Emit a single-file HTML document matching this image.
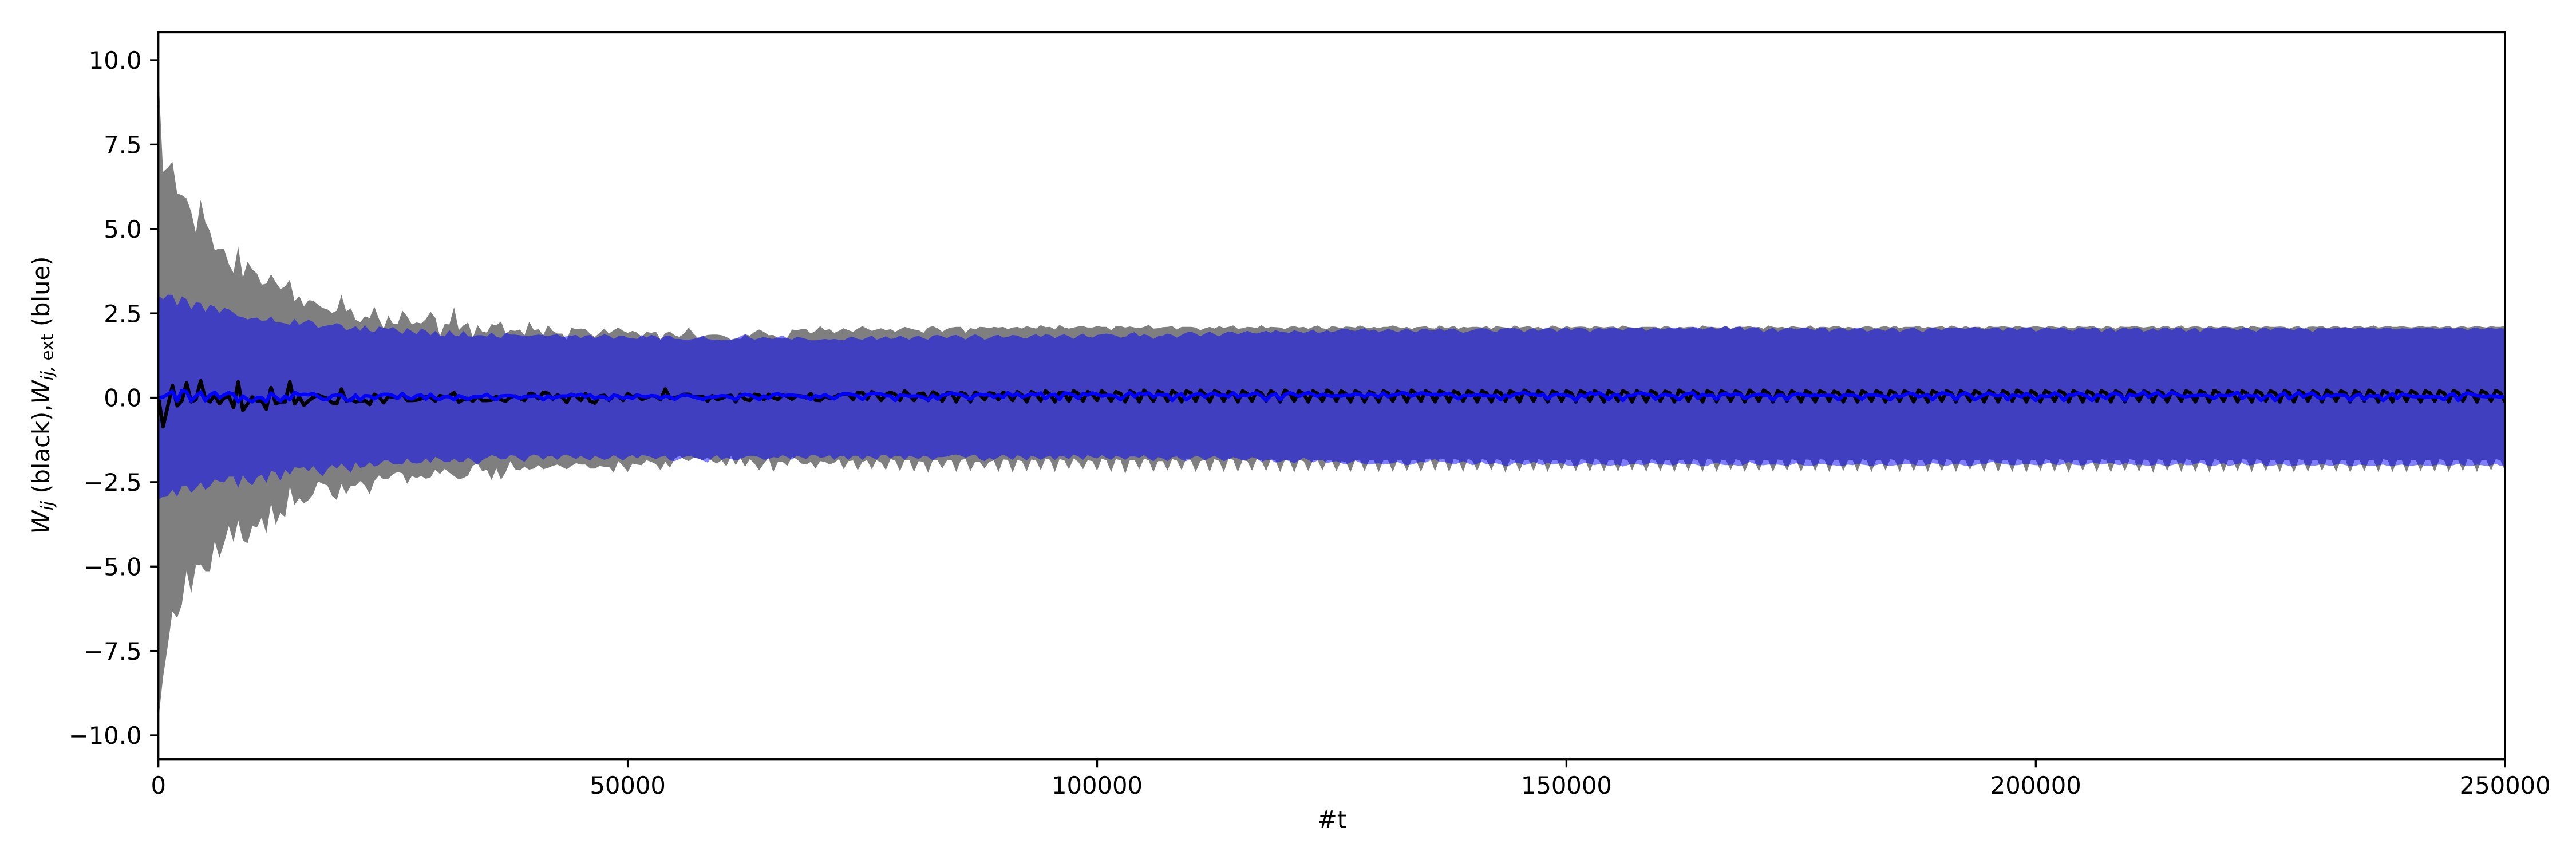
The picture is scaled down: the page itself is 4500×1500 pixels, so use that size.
<!DOCTYPE html>
<html>
<head>
<meta charset="utf-8">
<title>Wij and Wij,ext over time</title>
<style>
html,body{margin:0;padding:0;background:#fff;width:4500px;height:1500px;overflow:hidden}
svg{display:block}
text{font-family:"DejaVu Sans","Liberation Sans",sans-serif;fill:#000}
</style>
</head>
<body>
<svg id="chart" xmlns="http://www.w3.org/2000/svg" width="4500" height="1500" viewBox="0 0 4500 1500">
<defs><clipPath id="plot-clip"><rect x="276.7" y="56.5" width="4099.5" height="1269.2"/></clipPath></defs>
<rect x="0" y="0" width="4500" height="1500" fill="#fff"/>
<g id="marks" clip-path="url(#plot-clip)"></g>
<g id="axes"></g>
<text x="2326.5" y="1445.5" font-size="41.67" text-anchor="middle">#t</text>
<text transform="translate(86,690) rotate(-90)" font-size="41.67" text-anchor="middle" xml:space="preserve"><tspan font-style="italic">W</tspan><tspan font-style="italic" font-size="29.2" dy="6.5">ij</tspan><tspan dy="-6.5"> (black),</tspan><tspan font-style="italic">W</tspan><tspan font-style="italic" font-size="29.2" dy="6.5">ij,</tspan><tspan font-size="29.2"> ext</tspan><tspan dy="-6.5"> (blue)</tspan></text>
</svg>
<script>
const xTicks = [0, 50000, 100000, 150000, 200000, 250000];
const xTickLabels = ["0", "50000", "100000", "150000", "200000", "250000"];
const yTicks = [10, 7.5, 5, 2.5, 0, -2.5, -5, -7.5, -10];
const yTickLabels = ["10.0", "7.5", "5.0", "2.5", "0.0", "\u22122.5", "\u22125.0", "\u22127.5", "\u221210.0"];
const sampleStep = 500;

const blackUpper = [9.6,6.69,6.82,6.98,6.05,6,5.9,5.5,4.87,5.86,5.2,4.93,4.37,4.42,4.4,3.96,3.7,4.48,3.55,4.03,3.8,3.68,3.35,3.38,3.66,3.42,3.22,3.3,3.5,2.86,3.02,2.71,2.89,2.87,2.76,2.66,2.62,2.51,2.58,3.05,2.56,2.65,2.31,2.24,2.41,2.36,2.7,2.33,2.05,2.43,2.18,2.19,2.58,2.41,2.17,2.23,2.2,2.33,2.55,2.37,1.82,2.19,2.17,2.68,2,2.14,2.23,1.78,2.15,1.96,1.93,2.18,2.14,2.26,1.9,2,1.98,2.02,
1.85,2.25,2,2.03,1.85,2.15,1.98,1.9,1.9,1.72,2.07,2.03,2.05,2.03,1.9,1.8,1.92,2.05,1.9,2,2.08,1.98,1.92,1.98,
1.93,1.8,1.95,1.92,1.96,1.72,1.92,1.95,1.85,1.8,1.9,2.08,1.9,1.76,1.82,1.86,1.87,1.87,1.85,1.8,1.72,1.76,1.74,1.88,
1.84,1.95,2.02,1.95,1.85,1.86,1.76,1.75,1.78,2.02,2,2.03,2.03,1.9,1.98,2.12,2,2.03,1.92,1.98,2.06,2,1.95,2.05,
2.12,2.05,1.98,2.02,2.06,2,2.03,1.95,2.03,2.1,2.06,2.02,2,1.92,2.08,2.12,2.06,1.95,2.04,2.08,2.1,2.1,1.92,2.07,
2.02,2.1,2.09,2.06,2.1,2.08,2.1,2.03,2.08,2.1,2.05,2.12,2.08,2.05,2.15,2.09,2.1,2.02,2.16,2.08,2.05,2.08,2.11,2.12,
2.08,2.08,2.12,2.1,2.1,2,2.12,2.12,2.08,2.11,2.08,2.06,2.1,2.16,2.05,2.06,2.09,2.1,2.12,2.02,2.1,2.1,2.1,2.08,
2,2.06,2.1,2.05,2.12,2.07,2.1,2.14,2.04,2.06,2.1,2.09,2.06,2.15,2.06,2.1,2.09,2.08,2.03,2.1,2.12,2.08,2.1,2.04,
2.1,2.14,2.06,2.03,2.12,2.1,2.06,2.11,2.1,2.08,2.14,2.09,2.06,2.1,2.06,2.1,2.1,2.14,2.1,2.06,2.1,2.03,2.09,2.1,
2.12,2.06,2.05,2.14,2.08,2.08,2.13,2.04,2.1,2.08,2.1,2.1,2.08,2.12,2.03,2.12,2.1,2.08,2.05,2.14,2.08,2.1,2.12,2.07,
2.1,2.04,2.06,2.14,2.1,2.05,2.12,2.08,2.1,2.11,2.1,2.05,2.12,2.1,2.08,2.1,2.11,2.06,2.14,2.1,2.08,2.06,2.1,2.1,
2.1,2.1,2.05,2.13,2.1,2.02,2.1,2.08,2.1,2.1,2.04,2.14,2.1,2.1,2.08,2.08,2.13,2.04,2.1,2.1,2.1,2.12,2.08,2.1,
2.04,2.14,2.1,2.08,2.1,2.06,2.12,2.1,2.08,2.08,2.14,2.05,2.1,2.1,2.08,2.12,2.12,2.06,2.1,2.08,2.03,2.09,2.12,2.1,
2.05,2.1,2.12,2.08,2.13,2.06,2.1,2.1,2.1,2.13,2.06,2.1,2.08,2.1,2.12,2.06,2.14,2.1,2.06,2.12,2.08,2.1,2.1,2.05,
2.12,2.1,2.1,2.12,2.1,2.08,2.13,2.1,2.08,2.1,2.12,2.1,2.08,2.13,2.1,2.08,2.12,2.07,2.06,2.12,2.1,2.1,2.13,2.08,
2.05,2.12,2.1,2.04,2.11,2.1,2.1,2.13,2.1,2.08,2.1,2.12,2.06,2.11,2.13,2.06,2.1,2.14,2.06,2.1,2.12,2.1,2.05,2.13,
2.09,2.08,2.12,2.1,2.08,2.1,2.12,2.06,2.13,2.1,2.08,2.12,2.1,2.1,2.11,2.1,2.05,2.1,2.12,2.03,2.1,2.11,2.1,2.13,
2.05,2.1,2.13,2.08,2.1,2.06,2.12,2.12,2.08,2.1,2.14,2.08,2.1,2.13,2.1,2.1,2.12,2.1,2.08,2.1,2.12,2.1,2.1,2.12,
2.08,2.1,2.13,2.06,2.1,2.12,2.08,2.1,2.13,2.1,2.08,2.12,2.1,2.1,2.13,2.08,2.1,2.12,2.1,2.08,2.12,2.1,2.1,2.12];

const blackLower = [-9.54,-8.28,-7.35,-6.33,-6.52,-6.13,-5.12,-5.79,-4.96,-4.94,-5.14,-5.14,-4.25,-4.74,-4.31,-3.8,-4.27,-3.63,-4.23,-4.31,-3.8,-3.84,-3.55,-4.02,-3.13,-3.76,-3.41,-3.54,-2.63,-3.18,-2.97,-3.13,-3.03,-2.85,-2.48,-2.55,-2.6,-2.91,-3.03,-2.56,-2.86,-2.61,-2.61,-2.47,-2.6,-2.86,-2.47,-2.3,-2.42,-2.4,-2.26,-2.2,-2.24,-2.55,-2.32,-2.38,-2.32,-2.4,-2.36,-2.13,-2.26,-2.11,-2.22,-2.32,-2.42,-2.38,-2.3,-2.01,-1.95,-2.18,-2.13,-2.44,-2.09,-2.43,-2.2,-1.88,-2.12,-2.15,
-2.05,-2.13,-2.1,-2,-2.12,-2.08,-2.02,-1.98,-2.05,-2.12,-2.02,-1.94,-1.98,-1.98,-2.1,-2.1,-2.02,-2.05,-2.05,-2.22,-1.88,-2.02,-2.2,-1.95,
-1.98,-2,-1.85,-1.9,-1.97,-2.15,-1.9,-2.08,-1.8,-1.72,-1.82,-1.88,-1.78,-1.8,-1.85,-1.78,-1.88,-1.95,-1.85,-2.03,-1.72,-2,-1.78,-2.05,
-1.82,-1.95,-2.15,-1.95,-1.78,-2.2,-1.9,-1.9,-2.02,-1.75,-1.82,-1.95,-1.98,-1.9,-2.1,-1.88,-1.9,-1.98,-1.92,-1.82,-2.12,-1.88,-1.86,-2.15,
-1.9,-1.85,-2.12,-1.85,-1.92,-2.14,-1.82,-1.86,-2.18,-1.84,-1.84,-2.2,-1.88,-1.9,-2.22,-1.85,-1.85,-2.1,-1.86,-1.85,-2.2,-1.84,-1.82,-2.18,
-1.9,-1.9,-2.1,-1.9,-1.86,-2.2,-1.83,-1.84,-2.22,-1.85,-1.88,-2.18,-1.83,-1.86,-2.15,-1.8,-1.84,-2.2,-1.82,-1.85,-2.12,-1.8,-1.9,-2.12,
-1.85,-1.88,-2.16,-1.8,-1.86,-2.2,-1.82,-1.85,-2.26,-1.84,-1.85,-2.12,-1.8,-1.86,-2.2,-1.88,-1.88,-2.16,-1.82,-1.86,-2.14,-1.8,-1.85,-2.2,
-1.88,-1.84,-2.2,-1.82,-1.87,-2.2,-1.8,-1.84,-2.2,-1.85,-1.88,-2.16,-1.82,-1.85,-2.18,-1.82,-1.86,-2.2,-1.84,-1.85,-2.22,-1.84,-1.88,-2.17,
-1.85,-1.86,-2.15,-1.84,-1.86,-2.18,-1.88,-1.9,-2.2,-1.85,-1.84,-2.18,-1.84,-1.86,-2.2,-1.86,-1.85,-2.2,-1.84,-1.86,-2.17,-1.85,-1.86,-2.2,
-1.82,-1.8,-2.18,-1.8,-1.82,-2.2,-1.82,-1.84,-2.2,-1.8,-1.88,-2.17,-1.82,-1.85,-2.15,-1.82,-1.85,-2.22,-1.82,-1.86,-2.18,-1.84,-1.86,-2.17,
-1.82,-1.85,-2.2,-1.84,-1.85,-2.14,-1.83,-1.86,-2.18,-1.82,-1.84,-2.2,-1.8,-1.86,-2.18,-1.84,-1.85,-2.2,-1.82,-1.85,-2.15,-1.84,-1.86,-2.2,
-1.82,-1.85,-2.18,-1.84,-1.84,-2.2,-1.84,-1.86,-2.17,-1.82,-1.85,-2.2,-1.8,-1.84,-2.2,-1.84,-1.86,-2.14,-1.82,-1.86,-2.2,-1.84,-1.86,-2.18,
-1.84,-1.85,-2.2,-1.83,-1.85,-2.17,-1.82,-1.86,-2.2,-1.83,-1.84,-2.18,-1.82,-1.84,-2.2,-1.84,-1.86,-2.17,-1.85,-1.85,-2.19,-1.82,-1.86,-2.2,
-1.84,-1.85,-2.16,-1.82,-1.85,-2.2,-1.82,-1.85,-2.18,-1.84,-1.86,-2.2,-1.82,-1.84,-2.18,-1.82,-1.85,-2.2,-1.84,-1.86,-2.14,-1.84,-1.85,-2.2,
-1.82,-1.85,-2.21,-1.84,-1.85,-2.2,-1.82,-1.85,-2.22,-1.84,-1.84,-2.17,-1.82,-1.85,-2.2,-1.82,-1.85,-2.22,-1.84,-1.85,-2.17,-1.85,-1.85,-2.2,
-1.82,-1.85,-2.22,-1.84,-1.86,-2.18,-1.82,-1.85,-2.2,-1.83,-1.85,-2.22,-1.82,-1.85,-2.17,-1.83,-1.85,-2.2,-1.82,-1.85,-2.2,-1.84,-1.85,-2.22,
-1.82,-1.85,-2.2,-1.84,-1.85,-2.18,-1.82,-1.84,-2.21,-1.82,-1.85,-2.18,-1.84,-1.85,-2.2,-1.84,-1.85,-2.22,-1.82,-1.85,-2.2,-1.84,-1.85,-2.17,
-1.83,-1.85,-2.2,-1.84,-1.85,-2.22,-1.84,-1.85,-2.18,-1.84,-1.85,-2.2,-1.82,-1.85,-2.2,-1.84,-1.85,-2.22,-1.84,-1.85,-2.18,-1.84,-1.85,-2.2,
-1.82,-1.85,-2.2,-1.84,-1.85,-2.18,-1.82,-1.85,-2.2,-1.84,-1.85,-2.16,-1.82,-1.85,-2.18,-1.84,-1.85,-2.2,-1.82,-1.85,-2.18,-1.84,-1.85,-2.2];

const blueUpper = [3.02,2.92,3.05,3.05,2.72,3,2.92,2.62,2.83,2.81,2.55,2.75,2.7,2.51,2.66,2.62,2.52,2.41,2.39,2.32,2.36,2.37,2.28,2.29,2.41,2.23,2.23,2.2,2.16,2.34,2.16,2.24,2.31,2.24,2.07,2.11,2.14,2.15,2.21,2.16,2,2.04,2.12,1.98,2.15,1.98,1.94,2.11,2.07,2.04,2.09,1.99,1.89,2.06,1.97,1.88,2.05,1.99,1.85,1.98,1.84,1.82,2,1.85,1.82,1.98,1.82,1.81,1.85,1.85,1.81,1.93,1.81,1.77,1.93,1.87,1.87,1.85,
1.83,1.82,1.85,1.87,1.85,1.82,1.86,1.88,1.8,1.82,1.84,1.86,1.76,1.84,1.86,1.76,1.82,1.88,1.84,1.74,1.82,1.84,1.78,1.76,
1.74,1.86,1.78,1.86,1.82,1.72,1.84,1.84,1.74,1.74,1.72,1.72,1.74,1.78,1.84,1.74,1.72,1.72,1.7,1.72,1.72,1.74,1.82,1.88,
1.78,1.72,1.76,1.8,1.76,1.74,1.8,1.84,1.76,1.72,1.8,1.78,1.74,1.7,1.7,1.72,1.74,1.72,1.74,1.72,1.7,1.78,1.8,1.74,
1.72,1.78,1.84,1.72,1.76,1.82,1.74,1.76,1.84,1.78,1.72,1.8,1.84,1.76,1.72,1.84,1.86,1.82,1.76,1.84,1.86,1.8,1.72,1.82,
1.88,1.82,1.72,1.76,1.84,1.86,1.78,1.8,1.86,1.84,1.78,1.75,1.84,1.88,1.8,1.88,1.86,1.76,1.84,1.88,1.82,1.74,1.84,1.9,
1.8,1.78,1.86,1.88,1.9,1.88,1.84,1.78,1.8,1.9,1.94,1.82,1.88,1.84,1.74,1.82,1.84,1.9,1.86,1.78,1.86,1.93,1.96,1.9,
1.82,1.9,1.96,1.88,1.82,1.9,1.96,1.94,1.88,1.93,1.98,1.92,1.9,1.94,1.98,1.92,2,1.96,1.94,1.92,2,1.96,1.92,1.96,
2.02,1.92,1.94,2,1.94,1.98,2.03,2.05,2,1.98,2.02,2.06,1.98,2.02,1.95,1.98,2.04,2,1.94,2,2.05,1.98,1.94,2.02,
2.05,1.99,2,2.06,1.98,2.03,2.05,1.98,1.92,1.96,2,2.05,2.06,2.05,1.98,1.94,2.04,2.06,2.07,2.06,2.03,1.94,2.02,2.06,
1.98,2.04,2.07,2.05,1.96,2.04,2.08,2,2.06,2.07,2.04,1.94,2.04,2.07,2.02,2.06,2.08,2.04,2,2.06,2.08,2.06,2.08,1.98,
2.04,2.08,2.02,2.04,2.08,2.07,2.08,2.03,2.06,2.1,2.08,2.02,2.06,2.1,2.02,2.07,2.12,2.02,2.08,2.12,2,2.07,2.1,2.06,
1.94,2.02,2.07,1.96,2.02,2.07,2.06,2.02,2.06,2.08,2.04,2,2.07,2.08,1.96,2.03,2.06,2.06,1.98,2.04,2.08,2.06,1.96,2,
2.06,2.02,1.98,2.06,2.06,1.94,2.02,2.05,2.08,2,1.94,2.05,2.08,2.05,2,2.08,2.06,2.08,2.06,2.04,2.07,2.1,2.06,2.02,
2.04,2.07,2.08,1.98,2.07,2.08,2,2.06,2.08,2.08,1.96,2.02,2.08,2.06,2.02,2.07,2.08,2,1.98,2.06,2.08,2.02,2.06,2.08,
1.94,2.03,2.07,1.96,2.04,2.08,2.02,2.07,2.06,1.96,2,2.06,1.98,2.07,2.07,2,2.08,2.06,1.96,2.02,2.08,1.94,2.07,2.08,
2.04,2.06,2.08,2.07,2.04,2,2.06,2.08,2,1.96,2.05,2.08,2,2.07,2.08,2.06,2.04,2,2.08,2.06,2.04,1.94,2.06,2.06,
2.06,2.04,2.07,2.06,2.08,2.06,2.04,2.08,2.06,2.06,2.07,2.02,2.06,2.08,2.04,2.02,2.06,2.05,2.04,2.07,2.06,2.06,2.07,2.05,
2.03,2.06,2.08,2.04,2.07,2.06,2,2.06,2.08,2.02,2.06,2.07,2.04,2.06,2.05,2,2.05,2.06,2.04,2.06,2.07,2.02,2.06,2.06];

const blueLower = [-3.03,-2.93,-2.91,-2.73,-2.93,-2.62,-2.6,-2.82,-2.68,-2.51,-2.73,-2.62,-2.42,-2.48,-2.51,-2.34,-2.34,-2.67,-2.3,-2.48,-2.6,-2.36,-2.28,-2.52,-2.17,-2.21,-2.47,-2.13,-2.28,-2.06,-2.08,-2.06,-2.18,-2.02,-2.2,-2.32,-2.12,-1.99,-2.1,-1.95,-2.09,-2.22,-1.91,-2.08,-2.04,-1.91,-2.04,-1.99,-1.86,-1.86,-1.97,-1.96,-1.98,-1.8,-1.93,-1.95,-1.93,-1.8,-1.93,-1.75,-1.82,-1.91,-1.9,-1.81,-1.9,-1.89,-1.77,-1.87,-1.99,-1.85,-1.78,-1.7,-1.74,-1.83,-1.82,-1.7,-1.72,-1.82,
-1.9,-1.74,-1.68,-1.72,-1.84,-1.72,-1.74,-1.84,-1.72,-1.68,-1.75,-1.82,-1.72,-1.8,-1.86,-1.72,-1.78,-1.84,-1.8,-1.7,-1.78,-1.86,-1.75,-1.7,
-1.8,-1.7,-1.72,-1.76,-1.82,-1.75,-1.72,-1.86,-1.88,-1.82,-1.76,-1.72,-1.76,-1.8,-1.86,-1.92,-1.78,-1.7,-1.84,-1.78,-1.82,-1.86,-1.82,-1.75,
-1.72,-1.72,-1.76,-1.84,-1.82,-1.76,-1.78,-1.7,-1.76,-1.84,-1.72,-1.76,-1.82,-1.7,-1.7,-1.78,-1.76,-1.7,-1.84,-1.74,-1.72,-1.84,-1.72,-1.72,
-1.84,-1.72,-1.76,-1.84,-1.7,-1.7,-1.8,-1.72,-1.72,-1.84,-1.72,-1.76,-1.82,-1.72,-1.75,-1.86,-1.76,-1.76,-1.74,-1.7,-1.68,-1.72,-1.78,-1.72,
-1.68,-1.82,-1.88,-1.78,-1.84,-1.76,-1.68,-1.76,-1.84,-1.7,-1.76,-1.86,-1.72,-1.76,-1.84,-1.76,-1.72,-1.85,-1.72,-1.74,-1.82,-1.68,-1.74,-1.84,
-1.7,-1.76,-1.8,-1.7,-1.78,-1.84,-1.72,-1.76,-1.84,-1.74,-1.74,-1.78,-1.7,-1.8,-1.88,-1.76,-1.8,-1.88,-1.76,-1.74,-1.84,-1.88,-1.8,-1.72,
-1.76,-1.86,-1.78,-1.72,-1.8,-1.88,-1.82,-1.76,-1.8,-1.86,-1.84,-1.76,-1.8,-1.9,-1.84,-1.84,-1.92,-1.9,-1.84,-1.88,-1.94,-1.86,-1.78,-1.84,
-1.92,-1.86,-1.84,-1.94,-1.9,-1.88,-1.94,-1.98,-1.92,-1.86,-1.92,-1.96,-1.98,-1.96,-1.94,-1.98,-1.96,-1.94,-1.9,-1.96,-2,-1.98,-1.94,-1.9,
-1.92,-1.86,-1.82,-1.9,-1.9,-1.94,-1.98,-1.94,-1.88,-1.94,-2,-1.96,-1.9,-1.98,-1.96,-1.94,-1.98,-2.02,-2,-1.92,-1.94,-2,-1.96,-1.9,
-1.96,-2,-1.92,-1.98,-1.96,-1.94,-2,-2.02,-2.02,-1.98,-1.92,-1.96,-2,-1.96,-1.98,-2.02,-2,-1.98,-2.04,-2,-1.96,-1.96,-2,-1.98,
-1.92,-1.96,-1.98,-1.98,-2,-2,-1.94,-1.98,-1.96,-1.96,-2,-2.02,-2.02,-1.96,-1.92,-1.98,-2,-1.98,-2,-2.02,-1.98,-1.9,-1.96,-2,
-2,-1.98,-1.98,-1.98,-2,-2.02,-1.98,-1.94,-1.98,-2.02,-2.02,-2,-1.96,-1.96,-2,-2,-2.02,-2.02,-1.98,-2,-1.96,-1.98,-2,-2.02,
-2,-1.96,-2,-2.02,-2,-1.98,-1.96,-1.96,-1.98,-2.02,-2.02,-1.98,-1.94,-1.96,-2,-2.02,-1.98,-1.96,-1.98,-2.02,-2.02,-2,-1.96,-1.98,
-1.92,-1.9,-1.94,-1.96,-1.98,-2,-2,-1.98,-1.96,-1.98,-2,-2,-1.96,-1.92,-1.98,-2,-1.96,-1.9,-1.98,-2,-2,-1.98,-1.92,-1.94,
-1.98,-1.96,-1.92,-1.98,-2,-1.94,-1.96,-2,-1.98,-2,-2.02,-2,-1.96,-2,-2.02,-2,-1.96,-1.94,-2,-2,-1.96,-1.92,-1.98,-2.02,
-2.02,-1.98,-1.94,-2.02,-2,-1.96,-1.94,-2,-2,-1.96,-1.94,-2.02,-2.02,-2,-1.96,-1.98,-2.02,-2.02,-2,-1.98,-2,-2.02,-2,-1.96,
-2,-2.02,-1.98,-1.96,-2,-2.02,-2.02,-1.98,-2,-2.02,-2.02,-2,-1.98,-2.02,-2.02,-2,-1.98,-2.02,-2.02,-2,-1.98,-2.02,-2.02,-2,
-1.98,-2,-2.02,-2,-1.96,-2,-2.02,-2.02,-1.98,-2,-2.02,-2,-1.96,-2.02,-2.02,-2,-1.98,-2,-2.02,-2.02,-1.98,-2,-2.02,-2];

const blackMean = [0.02,-0.86,-0.25,0.36,-0.24,-0.09,0.44,-0.12,-0.06,0.5,-0.03,-0.12,0.08,-0.18,-0.01,0.05,-0.29,0.47,-0.38,-0.18,0.02,-0.09,-0.09,-0.34,0.3,-0.18,-0.12,-0.12,0.47,-0.18,0.02,-0.22,-0.09,0.01,0.08,0.02,-0.02,-0.15,-0.18,0.26,-0.1,-0.05,-0.12,-0.1,-0.08,-0.2,0.1,0.02,-0.15,0.04,0.02,-0.01,0.12,-0.08,-0.08,-0.07,-0.03,0.03,0.02,-0.1,0.06,0.03,0.05,0.15,-0.13,-0.05,-0.02,-0.1,0.03,-0.08,-0.08,-0.07,0.04,-0.06,-0.1,0.02,0.05,-0.02,
-0.08,0.12,0.1,-0.03,0.16,0.13,-0.04,0.08,0.02,-0.14,0.1,0.05,-0.08,0.12,-0.1,-0.16,0.05,0.07,-0.08,0.07,0.05,-0.08,0.12,0.02,
0.08,-0.05,0,0.06,0.04,-0.06,0.26,-0.02,0,0.04,0.1,0.1,0.02,0.02,0.03,-0.1,0.06,-0.05,-0.02,0.05,0.07,-0.12,0.1,-0.05,
-0.08,0.1,0.08,-0.06,0.1,0,-0.05,0.08,0.04,-0.04,0.06,0.05,0,0.12,-0.07,-0.08,0.05,-0.02,0.02,0.08,0.1,0.1,-0.05,0.15,
0.16,-0.04,0.18,0.1,-0.08,0.1,0.16,0.1,-0.08,0.2,0.08,-0.08,0.12,0.13,-0.08,0.17,0.1,-0.1,0.14,0.14,-0.12,0.16,0.1,-0.12,
0.16,0.09,-0.06,0.14,0.12,-0.06,0.16,0.1,-0.08,0.18,0.08,-0.12,0.18,0.1,-0.09,0.2,0.1,-0.12,0.16,0.14,-0.1,0.2,0.13,-0.1,
0.18,0.09,-0.08,0.2,0.1,-0.1,0.18,0.12,-0.12,0.2,0.13,-0.12,0.22,0.1,-0.1,0.19,0.14,-0.1,0.2,0.12,-0.12,0.2,0.14,-0.1,
0.22,0.1,-0.12,0.2,0.15,-0.1,0.18,0.14,-0.12,0.2,0.12,-0.1,0.2,0.14,-0.1,0.2,0.12,-0.12,0.22,0.14,-0.1,0.2,0.12,-0.12,
0.2,0.12,-0.1,0.22,0.14,-0.1,0.2,0.12,-0.12,0.2,0.14,-0.12,0.18,0.12,-0.12,0.2,0.14,-0.1,0.19,0.13,-0.12,0.22,0.12,-0.1,
0.2,0.12,-0.12,0.2,0.14,-0.12,0.19,0.14,-0.1,0.2,0.14,-0.12,0.2,0.14,-0.12,0.2,0.14,-0.1,0.2,0.13,-0.12,0.22,0.14,-0.1,
0.2,0.12,-0.12,0.19,0.14,-0.1,0.2,0.14,-0.12,0.2,0.14,-0.1,0.2,0.13,-0.12,0.2,0.12,-0.1,0.2,0.14,-0.12,0.2,0.14,-0.12,
0.2,0.14,-0.1,0.19,0.14,-0.12,0.22,0.14,-0.1,0.2,0.12,-0.12,0.2,0.14,-0.12,0.2,0.14,-0.1,0.2,0.14,-0.12,0.22,0.12,-0.1,
0.22,0.14,-0.12,0.2,0.14,-0.1,0.2,0.12,-0.12,0.2,0.14,-0.12,0.2,0.14,-0.1,0.19,0.14,-0.12,0.2,0.14,-0.12,0.2,0.13,-0.1,
0.2,0.14,-0.12,0.2,0.14,-0.1,0.2,0.14,-0.12,0.22,0.13,-0.12,0.2,0.14,-0.1,0.2,0.14,-0.12,0.2,0.12,-0.1,0.2,0.14,-0.12,
0.2,0.14,-0.12,0.2,0.14,-0.1,0.22,0.14,-0.12,0.2,0.12,-0.12,0.2,0.14,-0.1,0.2,0.14,-0.12,0.2,0.14,-0.12,0.19,0.14,-0.1,
0.2,0.14,-0.12,0.2,0.13,-0.12,0.22,0.14,-0.1,0.2,0.14,-0.12,0.2,0.14,-0.12,0.2,0.12,-0.1,0.2,0.14,-0.12,0.2,0.14,-0.12,
0.21,0.14,-0.1,0.2,0.14,-0.12,0.2,0.13,-0.12,0.2,0.14,-0.1,0.2,0.14,-0.12,0.21,0.14,-0.12,0.2,0.14,-0.1,0.2,0.13,-0.12,
0.22,0.14,-0.1,0.2,0.14,-0.12,0.2,0.14,-0.1,0.22,0.14,-0.12,0.2,0.14,-0.12,0.21,0.14,-0.1,0.2,0.14,-0.12,0.2,0.14,-0.1,
0.2,0.14,-0.12,0.21,0.14,-0.1,0.2,0.13,-0.12,0.2,0.14,-0.1,0.21,0.14,-0.12,0.2,0.14,-0.1,0.2,0.14,-0.12,0.21,0.13,-0.1];

const blueMean = [0,0.02,0.1,0.19,-0.1,0.21,0.18,-0.1,0.05,0.17,-0.09,0.08,0.16,0,0.08,0.15,0.1,-0.12,0.05,-0.06,-0.12,0,0,-0.12,0.14,0.02,-0.1,0.05,-0.06,0.16,0.08,0.1,0.09,0.12,0.04,-0.05,-0.06,0.06,0.08,0.08,-0.07,-0.08,0.08,-0.08,0.06,0.05,-0.03,0.05,0.1,0.1,0.06,-0.02,0.12,0,-0.04,0.06,0.08,-0.04,0.1,-0.02,-0.05,0.04,0.03,-0.06,0.06,0.01,-0.05,0.02,0.03,0.04,0.1,0,-0.06,0.05,0.06,0.06,0.04,-0.02,
0.03,0.04,0.05,0.04,-0.06,0.05,-0.02,0.03,0.05,0.05,0.09,0.06,0.1,0.03,0.08,-0.02,0.03,0.02,-0.06,0.08,0.04,-0.02,0.03,-0.02,
0.08,0.04,0.03,0.06,0.05,-0.02,0.05,0.02,-0.05,0.04,0.08,0.06,0.03,-0.01,-0.05,0.01,0.02,0.03,0.06,0.05,0.01,-0.06,0.06,0.1,
0.08,0.02,-0.05,0.05,-0.01,0.09,0.12,0.06,0.07,0.08,0.06,0.03,0.03,-0.05,0.06,0.02,0.09,0.02,-0.03,0.06,0.12,0.11,0.09,0.05,
-0.05,0.08,0.13,0.12,0.11,0.06,0.05,-0.08,0.08,0.07,0.04,0.05,0.05,0.01,-0.07,0.07,-0.04,0.07,0.1,0.14,0.1,0.1,0.03,-0.05,
0.08,0.1,0.08,0.09,0.02,0.08,0.01,0.15,0.05,0.13,0.02,0.06,0.12,0.08,0.14,-0.03,0.08,0.1,-0.05,0.14,0.12,0.08,-0.02,0.12,
0.08,0.14,0.1,0.05,0.07,0.07,0.04,-0.06,0.06,0.16,0.03,0.13,0.1,0.14,0.02,0.1,0.08,0.09,-0.08,0.07,0.11,-0.06,0.05,0.1,
0.12,0.02,0.1,0.14,0.06,0.08,0.03,0.15,0.02,0.08,0.06,0.11,0.14,0.06,-0.08,0.07,0.11,-0.06,0.09,0.15,0.1,0.04,0.11,0.15,
0.1,0.04,0.1,0.07,0.04,0.06,0.05,0.08,0.06,0.12,0.1,0.02,0.12,0.08,0.02,0.14,0.03,0.08,0.1,0.15,0.12,0.05,0.1,0.14,
0.12,0.09,0.1,0.08,0.11,0.13,0.05,-0.03,0.06,0.06,0.07,0.09,0.08,0.06,0.05,0.06,-0.06,0.07,0.03,0.1,0.12,0.16,0.1,0.1,
0.06,0.1,-0.04,0.08,0.1,0.09,0.07,0.04,-0.08,0.09,0.03,0.15,0.1,0.14,0.06,-0.05,0.08,0.09,-0.08,0.06,0.06,0.12,0.14,0.1,
0.09,-0.04,0.06,0.1,0.07,0.05,-0.06,0.08,0.12,0.15,-0.02,0.1,0.06,0.08,-0.05,0.1,0.12,0.06,0.12,0.1,-0.02,0.04,0.08,0.1,
0.08,0.06,-0.07,0.07,0.08,-0.06,0.08,0.11,0.1,0.08,0.05,0.08,0.06,0.07,0.07,0.05,-0.06,0.07,0.08,0.08,0.04,-0.04,0.08,0.09,
0.08,0.05,0.03,-0.06,0.07,0.03,0.08,0.14,0.1,0.03,0.06,0.08,-0.06,0.08,0.14,0.12,0.08,-0.06,0.09,0.14,0.07,-0.06,0.02,0.08,
0.14,0.08,0.05,0.1,-0.06,0.08,0.06,0.03,0.12,0.05,-0.08,0.06,0.04,0.04,0.14,0.08,-0.08,0.08,0.08,0.14,0.1,0.03,-0.08,0.08,
0.05,-0.02,0.09,0.14,0.08,-0.08,0.1,0.06,0.08,0.17,0.02,0.1,0.16,0.03,0.06,0.17,0.1,0.05,0.03,0.05,0.06,0.08,0.08,0.04,
-0.02,0.08,0.06,0.06,0.1,0.16,-0.02,0.07,0.05,0.06,-0.08,0.04,0.08,-0.08,0.07,0.14,-0.03,0.06,0.16,0.02,0.1,0.14,0.02,-0.03,
0.08,0.04,0.08,0.08,0.07,-0.08,0.06,0.1,-0.06,0.06,0.04,0.06,-0.08,0.04,0.12,-0.02,0.1,0.08,0.04,0.03,0.04,0.02,0.03,0.03,
0.02,-0.06,0.07,0.12,-0.08,0.08,0.14,0.1,0.06,0.04,0.03,0.05,0.04,0.02,0.03,0.04,0.05,0.02,0.04,0.03,0.02,0.03,0.04,0.03];

const plotLeft = 276.7, plotRight = 4376.2, plotTop = 56.5, plotBottom = 1325.7;
const NS = "http://www.w3.org/2000/svg";
const marks = document.getElementById("marks");
const axes = document.getElementById("axes");
function xScale(t) { return plotLeft + (t / 250000) * (plotRight - plotLeft); }
function yScale(v) { return 694.5 - v * 58.95; }
function linePoints(values) {
  return values.map(function (v, i) { return xScale(i * sampleStep).toFixed(1) + "," + yScale(v).toFixed(1); });
}
function bandPoints(upper, lower) {
  return linePoints(upper).concat(linePoints(lower).reverse()).join(" ");
}
function make(tag, attrs) {
  const el = document.createElementNS(NS, tag);
  for (const k in attrs) el.setAttribute(k, attrs[k]);
  return el;
}

const greyBand = make("polygon", { points: bandPoints(blackUpper, blackLower), fill: "#000", "fill-opacity": "0.5" });


marks.appendChild(greyBand);

const blueBand = make("polygon", { points: bandPoints(blueUpper, blueLower), fill: "#00f", "fill-opacity": "0.5" });


marks.appendChild(blueBand);

const blackLine = make("polyline", { points: linePoints(blackMean).join(" "), fill: "none", stroke: "#000", "stroke-width": "6.25", "stroke-linejoin": "round" });


marks.appendChild(blackLine);

const blueLine = make("polyline", { points: linePoints(blueMean).join(" "), fill: "none", stroke: "#00f", "stroke-width": "6.25", "stroke-linejoin": "round" });


marks.appendChild(blueLine);

xTicks.forEach(function (t, i) {
  const x = xScale(t);
  const tick = make("line", { x1: x, x2: x, y1: plotBottom, y2: plotBottom + 14.6, stroke: "#000", "stroke-width": "3.33" });
  
  
  axes.appendChild(tick);
  const label = make("text", { x: x, y: 1386, "font-size": "41.67", "text-anchor": "middle" });
  
  
  label.textContent = xTickLabels[i];
  axes.appendChild(label);
});

yTicks.forEach(function (v, i) {
  const y = yScale(v);
  const tick = make("line", { x1: plotLeft - 14.6, x2: plotLeft, y1: y, y2: y, stroke: "#000", "stroke-width": "3.33" });
  
  
  axes.appendChild(tick);
  const label = make("text", { x: plotLeft - 29.2, y: y + 15.2, "font-size": "41.67", "text-anchor": "end" });
  
  
  label.textContent = yTickLabels[i];
  axes.appendChild(label);
});

const frame = make("rect", { x: plotLeft, y: plotTop, width: plotRight - plotLeft, height: plotBottom - plotTop, fill: "none", stroke: "#000", "stroke-width": "3.33" });


axes.appendChild(frame);
</script>
</body>
</html>
